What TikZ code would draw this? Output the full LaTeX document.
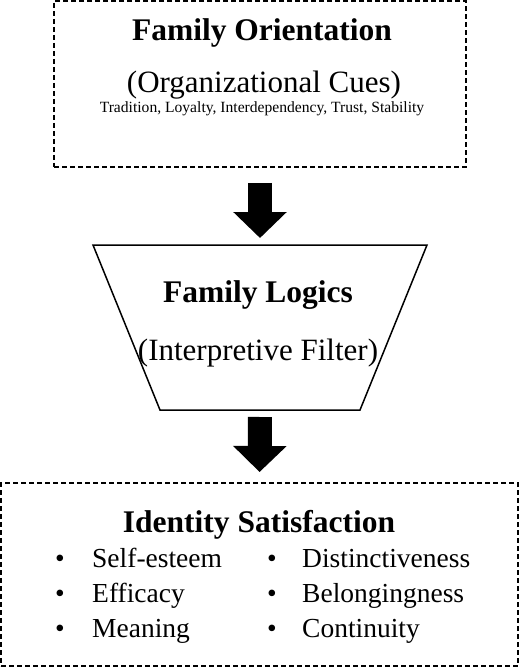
\documentclass[tikz,border=0pt]{standalone}
\usepackage{fontspec}
\setmainfont{Liberation Serif}
\usetikzlibrary{arrows.meta}

\begin{document}
\begin{tikzpicture}[x=1pt,y=-1pt]
  \tikzstyle{every node}=[inner sep=0pt]
  \tikzstyle{dashbox}=[draw, line width=2pt, dash pattern=on 5pt off 3pt]
  \tikzstyle{bigarrow}=[line width=24pt, -{Triangle[width=52pt,length=26pt]}]
  \tikzstyle{title}=[anchor=base, font=\fontsize{31.5}{36}\selectfont\bfseries]
  \tikzstyle{sub}=[anchor=base, font=\fontsize{31}{36}\selectfont]
  \tikzstyle{dot}=[anchor=base, font=\fontsize{27.5}{32}\selectfont]
  \tikzstyle{item}=[anchor=base west, font=\fontsize{27.5}{32}\selectfont]
  \useasboundingbox (0,0) rectangle (520,668);

  % Family Orientation
  \node[dashbox, minimum width=412pt, minimum height=166pt] (orient) at (260,84) {};
  \node[title] (orienttitle) at (262,41) {Family Orientation};
  \node[sub] (orientsub) at (264,93) {(Organizational Cues)};
  \node[anchor=base, font=\fontsize{15.6}{18}\selectfont] (cues) at (262,113)
    {Tradition, Loyalty, Interdependency, Trust, Stability};

  % Family Logics (filter)
  \draw[line width=1.5pt] (93,245) -- (427,245) -- (360,410) -- (160,410) -- cycle;
  \coordinate (filtertop) at (260,245);
  \coordinate (filterbot) at (260,410);
  \node[title] (logictitle) at (258,302) {Family Logics};
  \node[sub] (logicsub) at (258,360) {(Interpretive Filter)};

  % Identity Satisfaction
  \node[dashbox, minimum width=517pt, minimum height=183pt] (ident) at (259.5,574.5) {};
  \node[title] (identtitle) at (259,532) {Identity Satisfaction};
  % left column
  \node[dot] (b1) at (60,567) {\textbullet};
  \node[item] (i1) at (92,567) {Self-esteem};
  \node[dot] (b2) at (60,602) {\textbullet};
  \node[item] (i2) at (92,602) {Efficacy};
  \node[dot] (b3) at (60,637) {\textbullet};
  \node[item] (i3) at (92,637) {Meaning};
  % right column
  \node[dot] (b4) at (272,567) {\textbullet};
  \node[item] (i4) at (302,567) {Distinctiveness};
  \node[dot] (b5) at (272,602) {\textbullet};
  \node[item] (i5) at (302,602) {Belongingness};
  \node[dot] (b6) at (272,637) {\textbullet};
  \node[item] (i6) at (302,637) {Continuity};

  % Arrows
  \draw[bigarrow, shorten <=15pt, shorten >=7pt] (orient.south) -- (filtertop);
  \draw[bigarrow, shorten <=7pt, shorten >=10pt] (filterbot) -- (ident.north);
\end{tikzpicture}
\end{document}
